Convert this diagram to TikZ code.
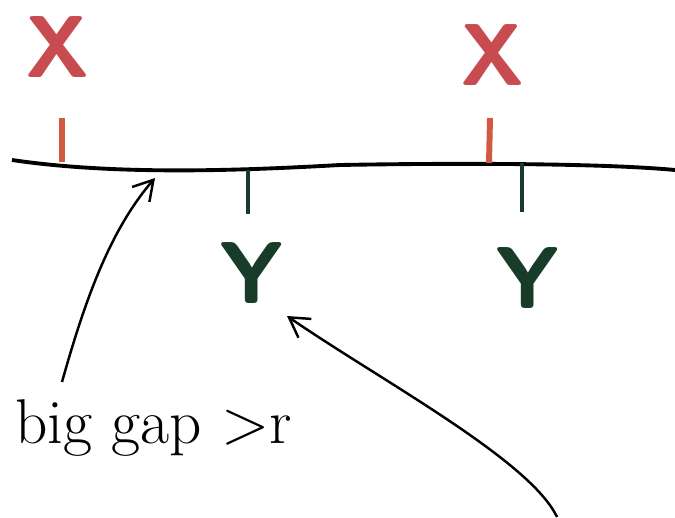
\documentclass[tikz,border=0pt]{standalone}
\usepackage{tikz}
\usetikzlibrary{arrows.meta}
\definecolor{xred}{RGB}{200,75,80}
\definecolor{tickred}{RGB}{210,90,65}
\definecolor{ygreen}{RGB}{25,60,42}

\begin{document}
\begin{tikzpicture}[x=0.02cm, y=-0.02cm,
  letter/.style={font=\fontsize{50}{50}\selectfont\sffamily\bfseries, inner sep=0pt},
  hand/.style={font=\fontsize{36}{36}\selectfont, inner sep=0pt},
  pointer/.style={-{Straight Barb[length=11pt,width=13pt]}, line width=1.4pt}]
  \useasboundingbox (0,0) rectangle (675,517);
  % the line
  \draw[line width=2.2pt] (12,160) .. controls (120,176) and (250,170) .. (340,165)
    .. controls (450,163) and (600,163) .. (675,170);
  % X points above
  \draw[tickred, line width=3.4pt] (62,118) -- (62,162);
  \draw[tickred, line width=3.4pt] (490,118) -- (489,163);
  \node[letter, text=xred] (x1) at (58,47) {X};
  \node[letter, text=xred] (x2) at (493,55) {X};
  % Y points below
  \draw[ygreen, line width=2.4pt] (248,170) -- (248,214);
  \draw[ygreen, line width=2.4pt] (522,163) -- (522,212);
  \node[letter, text=ygreen] (y1) at (252,273) {Y};
  \node[letter, text=ygreen] (y2) at (528,278) {Y};
  % labels and pointers
  \node[hand, anchor=base west] (gap) at (15,443) {big gap >r};
  \coordinate (gapfoot) at (62,382);
  \coordinate (gaptip) at (155,178);
  \coordinate (yfoot) at (557,517);
  \coordinate (ytip) at (287,316);
  \draw[pointer] (gapfoot) .. controls (85,300) and (110,230) .. (gaptip);
  \draw[pointer] (yfoot) .. controls (530,460) and (380,380) .. (ytip);
\end{tikzpicture}
\end{document}
